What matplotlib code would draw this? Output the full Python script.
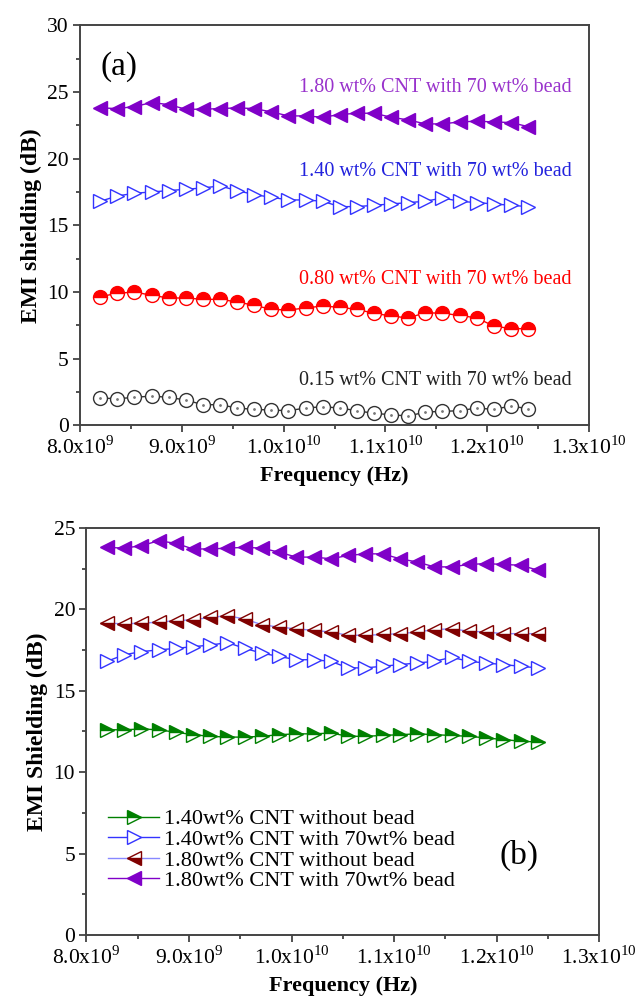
import matplotlib
matplotlib.use('Agg')
import matplotlib.pyplot as plt
from matplotlib.ticker import MultipleLocator, FixedLocator, FixedFormatter

plt.rcParams['font.family'] = ['Liberation Serif', 'DejaVu Serif']
plt.rcParams['mathtext.fontset'] = 'custom'
plt.rcParams['mathtext.rm'] = 'Liberation Serif'

# frequency points (GHz)
freq_ghz = [8.200, 8.368, 8.536, 8.704, 8.872, 9.040, 9.208, 9.376, 9.544, 9.712,
            9.880, 10.048, 10.216, 10.384, 10.552, 10.720, 10.888, 11.056, 11.224,
            11.392, 11.560, 11.728, 11.896, 12.064, 12.232, 12.400]
freq = [f * 1e9 for f in freq_ghz]

# EMI shielding (dB)
cnt180_bead = [23.8, 23.75, 23.9, 24.2, 24.05, 23.7, 23.7, 23.75, 23.8, 23.75, 23.5, 23.2, 23.2,
               23.1, 23.3, 23.4, 23.4, 23.1, 22.9, 22.6, 22.6, 22.75, 22.8, 22.75, 22.7, 22.4]
cnt140_bead = [16.8, 17.2, 17.4, 17.5, 17.6, 17.7, 17.8, 17.95, 17.6, 17.3, 17.1, 16.9, 16.9,
               16.8, 16.4, 16.4, 16.5, 16.6, 16.7, 16.8, 17.05, 16.8, 16.7, 16.6, 16.5, 16.4]
cnt080_bead = [9.65, 9.9, 10.0, 9.75, 9.55, 9.55, 9.45, 9.45, 9.25, 9.0, 8.7, 8.65, 8.8,
               8.95, 8.85, 8.7, 8.4, 8.2, 8.05, 8.45, 8.4, 8.25, 8.05, 7.45, 7.25, 7.25]
cnt015_bead = [2.05, 2.0, 2.1, 2.2, 2.1, 1.9, 1.55, 1.55, 1.3, 1.2, 1.15, 1.1, 1.3,
               1.4, 1.3, 1.1, 0.9, 0.8, 0.7, 1.0, 1.05, 1.1, 1.3, 1.2, 1.45, 1.25]
cnt180_nobead = [19.15, 19.1, 19.15, 19.2, 19.3, 19.35, 19.5, 19.6, 19.4, 19.05, 18.9, 18.8, 18.7,
                 18.6, 18.4, 18.4, 18.45, 18.5, 18.6, 18.75, 18.8, 18.65, 18.6, 18.5, 18.5, 18.5]
cnt140_nobead = [12.6, 12.6, 12.65, 12.6, 12.45, 12.3, 12.2, 12.15, 12.15, 12.2, 12.3, 12.35, 12.35,
                 12.4, 12.2, 12.2, 12.25, 12.3, 12.35, 12.3, 12.25, 12.2, 12.1, 12.0, 11.9, 11.85]

xtick_vals = [8.0e9, 9.0e9, 1.0e10, 1.1e10, 1.2e10, 1.3e10]
xtick_labels = [r'8.0x10$^{9}$', r'9.0x10$^{9}$', r'1.0x10$^{10}$',
                r'1.1x10$^{10}$', r'1.2x10$^{10}$', r'1.3x10$^{10}$']

PURPLE = '#8000c8'
BLUE = '#3333ff'
RED = '#ff0000'
BLACK = '#333333'
GREEN = '#008000'
BROWN = '#800000'
MS = 10.5


def style_axes(ax, ymax, ylabel):
    ax.set_xlim(8.0e9, 1.3e10)
    ax.set_ylim(0, ymax)
    ax.xaxis.set_major_locator(FixedLocator(xtick_vals))
    ax.xaxis.set_major_formatter(FixedFormatter(xtick_labels))
    ax.xaxis.set_minor_locator(MultipleLocator(0.5e9))
    ax.yaxis.set_major_locator(MultipleLocator(5))
    ax.yaxis.set_minor_locator(MultipleLocator(2.5))
    ax.tick_params(which='both', direction='out', top=False, right=False,
                   width=1.2, color='#333333', labelsize=15.5)
    ax.tick_params(which='major', length=5, pad=3)
    ax.tick_params(which='minor', length=3)
    for s in ax.spines.values():
        s.set_linewidth(1.4)
        s.set_color('#444444')
    ax.set_xlabel('Frequency (Hz)', fontsize=16, fontweight='bold', labelpad=5)
    ax.set_ylabel(ylabel, fontsize=17, fontweight='bold', labelpad=4)


fig = plt.figure(figsize=(6.39, 10.08), dpi=100)
ax1 = fig.add_axes([0.125, 0.578, 0.797, 0.397])
ax2 = fig.add_axes([0.135, 0.0724, 0.803, 0.404])

# panel (a)
ax1.plot(freq, cnt180_bead, color=PURPLE, lw=1, marker='<', ms=MS, mfc=PURPLE, mec=PURPLE)
ax1.plot(freq, cnt140_bead, color=BLUE, lw=1, marker='>', ms=MS, mfc='white', mec=BLUE, mew=1)
ax1.plot(freq, cnt080_bead, color=RED, lw=1, marker='o', ms=MS - 0.5, fillstyle='top',
         mfc=RED, mfcalt='white', mec=RED, mew=1)
ax1.plot(freq, cnt015_bead, color=BLACK, lw=1, marker='o', ms=MS - 0.5, mfc='white',
         mec=BLACK, mew=1)
ax1.plot(freq, cnt015_bead, ls='none', marker='.', ms=2, color='#777777')
style_axes(ax1, 30, 'EMI shielding (dB)')

ax1.text(1.283e10, 25.3, '1.80 wt% CNT with 70 wt% bead', color='#9933cc', fontsize=14.5,
         ha='right', va='center')
ax1.text(1.283e10, 19.0, '1.40 wt% CNT with 70 wt% bead', color='#2222dd', fontsize=14.5,
         ha='right', va='center')
ax1.text(1.283e10, 10.95, '0.80 wt% CNT with 70 wt% bead', color=RED, fontsize=14.5,
         ha='right', va='center')
ax1.text(1.283e10, 3.4, '0.15 wt% CNT with 70 wt% bead', color='#222222', fontsize=14.5,
         ha='right', va='center')
ax1.text(8.2e9, 26.9, '(a)', fontsize=24, ha='left', va='center')

# panel (b)
ax2.plot(freq, cnt140_nobead, color=GREEN, lw=1, marker='>', ms=MS, fillstyle='top',
         mfc=GREEN, mfcalt='white', mec=GREEN, mew=1, label='1.40wt% CNT without bead')
ax2.plot(freq, cnt140_bead, color=BLUE, lw=1, marker='>', ms=MS, mfc='white', mec=BLUE,
         mew=1, label='1.40wt% CNT with 70wt% bead')
ax2.plot(freq, cnt180_nobead, color='#8888ff', lw=1, marker='<', ms=MS, fillstyle='bottom',
         mfc=BROWN, mfcalt='white', mec=BROWN, mew=1, label='1.80wt% CNT without bead')
ax2.plot(freq, cnt180_bead, color=PURPLE, lw=1, marker='<', ms=MS, mfc=PURPLE, mec=PURPLE,
         label='1.80wt% CNT with 70wt% bead')
style_axes(ax2, 25, 'EMI Shielding (dB)')
ax2.text(1.222e10, 4.9, '(b)', fontsize=24, ha='center', va='center')
ax2.legend(loc='lower left', bbox_to_anchor=(0.025, 0.086), frameon=False, fontsize=16,
           handlelength=2.3, handletextpad=0.2, labelspacing=0.0, borderaxespad=0)

fig.savefig('out.png', dpi=100)
